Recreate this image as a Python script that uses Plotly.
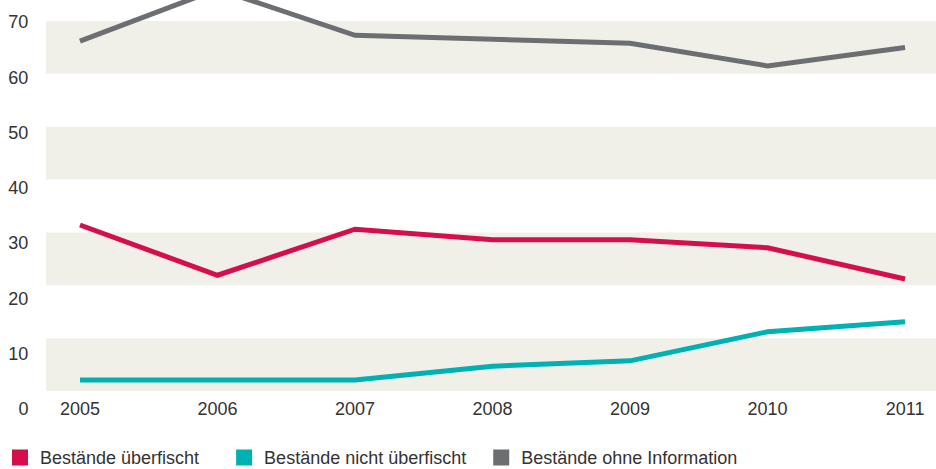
import plotly.graph_objects as go

years = [2005, 2006, 2007, 2008, 2009, 2010, 2011]
ueberfischt = [31.4, 21.9, 30.6, 28.6, 28.6, 27.1, 21.2]
nicht_ueberfischt = [2.1, 2.1, 2.1, 4.7, 5.7, 11.2, 13.1]
ohne_info = [66.2, 76.0, 67.3, 66.5, 65.8, 61.5, 65.0]
series_names = ["Bestände überfischt", "Bestände nicht überfischt", "Bestände ohne Information"]
colors = ["#d40f4c", "#00b1b4", "#6d6e72"]
tick_vals = [0, 10, 20, 30, 40, 50, 60, 70]
band_ranges = [(0, 10), (20, 30), (40, 50), (60, 70)]

FONT = "Liberation Sans, Arial, Helvetica, sans-serif"
TXT = "#333333"
NB = "\u00a0"
legend_pad = [4, 2, 0]

fig = go.Figure()
for vals, name, col in zip([ueberfischt, nicht_ueberfischt, ohne_info], series_names, colors):
    fig.add_trace(go.Scatter(x=years, y=vals, mode="lines", name=name,
                             line=dict(color=col, width=5), showlegend=False,
                             xaxis="x", yaxis="y", hoverinfo="x+y"))
for name, col, pad in zip(series_names, colors, legend_pad):
    fig.add_trace(go.Scatter(x=[None], y=[None], mode="markers", name=name + NB * pad,
                             marker=dict(symbol="square", size=16, color=col),
                             showlegend=True, xaxis="x", yaxis="y"))
# label axis helper subplot (y tick labels)
fig.add_trace(go.Scatter(x=[None], y=[None], xaxis="x2", yaxis="y2",
                         showlegend=False, hoverinfo="skip"))

for y0, y1 in band_ranges:
    fig.add_shape(type="rect", xref="x domain", yref="y", x0=0, x1=1, y0=y0, y1=y1,
                  fillcolor="#f1f0e8", line=dict(width=0), layer="below")

fig.update_layout(
    width=936, height=469,
    margin=dict(l=46, r=0, t=0, b=49, autoexpand=False),
    paper_bgcolor="white", plot_bgcolor="rgba(0,0,0,0)",
    font=dict(family=FONT, size=18, color=TXT),
    xaxis=dict(domain=[0, 1], range=[2004.753, 2011.225], tickvals=years, showgrid=False,
               zeroline=False, showline=False, ticks="outside", ticklen=1,
               tickcolor="rgba(0,0,0,0)", anchor="y", automargin=False),
    yaxis=dict(domain=[29 / 420, 1], range=[0, 73.97], showgrid=False, anchor="x",
               zeroline=False, showline=False, showticklabels=False, ticks="",
               automargin=False),
    xaxis2=dict(domain=[0, 1], range=[0, 1], anchor="y2", showgrid=False,
                zeroline=False, showline=False, showticklabels=False, ticks="",
                automargin=False),
    yaxis2=dict(domain=[0, 1], range=[-1.99, 73.98], anchor="x2",
                tickvals=tick_vals, showgrid=False, zeroline=False, showline=False,
                ticks="outside", ticklen=13, tickcolor="rgba(0,0,0,0)", automargin=False),
    legend=dict(orientation="h", xref="container", yref="container",
                x=-0.0085, y=0.024, xanchor="left", yanchor="middle",
                font=dict(family=FONT, size=18, color=TXT), itemsizing="trace"),
    showlegend=True,
)

fig.write_html("out.html", config={"displayModeBar": False},
               post_script="document.body.style.margin='0';")
